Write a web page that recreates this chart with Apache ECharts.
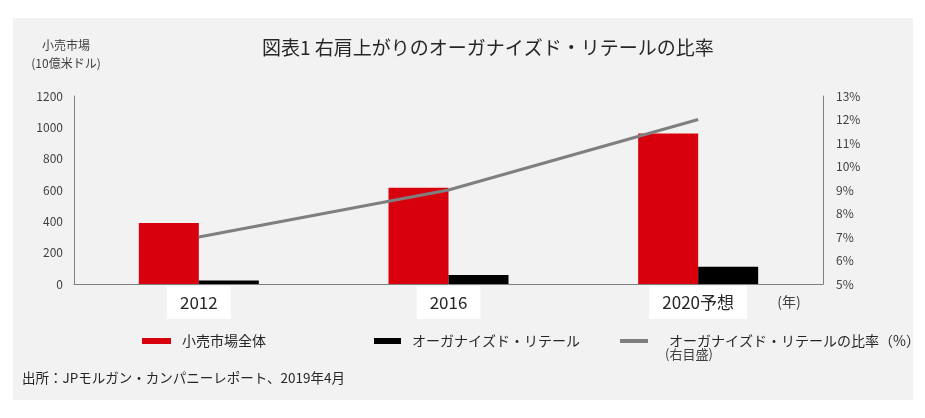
<!DOCTYPE html>
<html><head><meta charset="utf-8">
<script src="https://cdn.jsdelivr.net/npm/echarts@6/dist/echarts.min.js"></script>
<style>html,body{margin:0;padding:0;background:#fff}#c{width:925px;height:418px}</style>
</head><body><div id="c"></div>
<script>
const categories = ['2012', '2016', '2020予想'];
const retailTotal = [390, 615, 960];
const organizedRetail = [22, 57, 110];
const organizedShare = [7.0, 9.0, 12.0];
const leftTicks = {min: 0, max: 1200, interval: 200};
const rightTicks = {min: 5, max: 13, interval: 1};

const FONT = '"Noto Sans CJK JP", "Noto Sans", sans-serif';
const chart = echarts.init(document.getElementById('c'), null, {renderer: 'canvas'});
chart.setOption({
  animation: false,
  backgroundColor: '#ffffff',
  textStyle: {fontFamily: FONT},
  graphic: [
    {type: 'rect', z: -10, shape: {x: 13, y: 18, width: 900, height: 382}, style: {fill: '#f2f2f2'}},
    {type: 'text', x: 262, y: 48, style: {text: '図表1 右肩上がりのオーガナイズド・リテールの比率', font: '19px ' + FONT, fill: '#262626', verticalAlign: 'middle'}},
    {type: 'text', x: 66, y: 45, style: {text: '小売市場', font: '12px ' + FONT, fill: '#404040', align: 'center', verticalAlign: 'middle'}},
    {type: 'text', x: 66, y: 63, style: {text: '(10億米ドル)', font: '12px ' + FONT, fill: '#404040', align: 'center', verticalAlign: 'middle'}},
    {type: 'text', x: 789, y: 302, style: {text: '(年)', font: '14px ' + FONT, fill: '#404040', align: 'center', verticalAlign: 'middle'}},
    {type: 'text', x: 665, y: 354, style: {text: '(右目盛)', font: '13px ' + FONT, fill: '#404040', verticalAlign: 'middle'}},
    {type: 'text', x: 22, y: 378, style: {text: '出所：JPモルガン・カンパニーレポート、2019年4月', font: '13.5px ' + FONT, fill: '#262626', verticalAlign: 'middle'}}
  ],
  legend: [
    {data: ['小売市場全体'], left: 137, top: 329, icon: 'rect', itemWidth: 29, itemHeight: 6, textStyle: {fontSize: 14, color: '#262626', padding: [0, 0, 0, 6]}},
    {data: ['オーガナイズド・リテール'], left: 369, top: 329, icon: 'rect', itemWidth: 27, itemHeight: 6, textStyle: {fontSize: 14, color: '#262626', padding: [0, 0, 0, 6]}},
    {data: ['オーガナイズド・リテールの比率（%）'], left: 615, top: 329, icon: 'rect', itemWidth: 28, itemHeight: 4, textStyle: {fontSize: 14, color: '#262626', padding: [0, 0, 0, 16]}}
  ],
  grid: {left: 74, right: 102, top: 96, bottom: 134},
  xAxis: {
    type: 'category', data: categories,
    axisLine: {lineStyle: {color: '#808080', width: 1}},
    axisTick: {show: false},
    axisLabel: {fontSize: 17, color: '#262626', margin: 2, backgroundColor: '#ffffff', padding: [8, 13, 8, 13], fontFamily: FONT}
  },
  yAxis: [
    {type: 'value', min: leftTicks.min, max: leftTicks.max, interval: leftTicks.interval,
     axisLine: {show: true, lineStyle: {color: '#808080'}}, axisTick: {show: false}, splitLine: {show: false},
     axisLabel: {fontSize: 12, color: '#404040', margin: 11, formatter: function (v) { return String(v); }}},
    {type: 'value', min: rightTicks.min, max: rightTicks.max, interval: rightTicks.interval, position: 'right',
     axisLine: {show: true, lineStyle: {color: '#808080'}}, axisTick: {show: false}, splitLine: {show: false},
     axisLabel: {fontSize: 12, color: '#404040', margin: 13, formatter: '{value}%'}}
  ],
  series: [
    {name: '小売市場全体', type: 'bar', data: retailTotal, barWidth: 60, barGap: '0%', itemStyle: {color: '#d9000e'}},
    {name: 'オーガナイズド・リテール', type: 'bar', data: organizedRetail, barWidth: 60, barGap: '0%', itemStyle: {color: '#000000'}},
    {name: 'オーガナイズド・リテールの比率（%）', type: 'line', yAxisIndex: 1, data: organizedShare, symbol: 'none',
     lineStyle: {color: '#7f7f7f', width: 3}, itemStyle: {color: '#7f7f7f'}, z: 5}
  ]
});
</script></body></html>
